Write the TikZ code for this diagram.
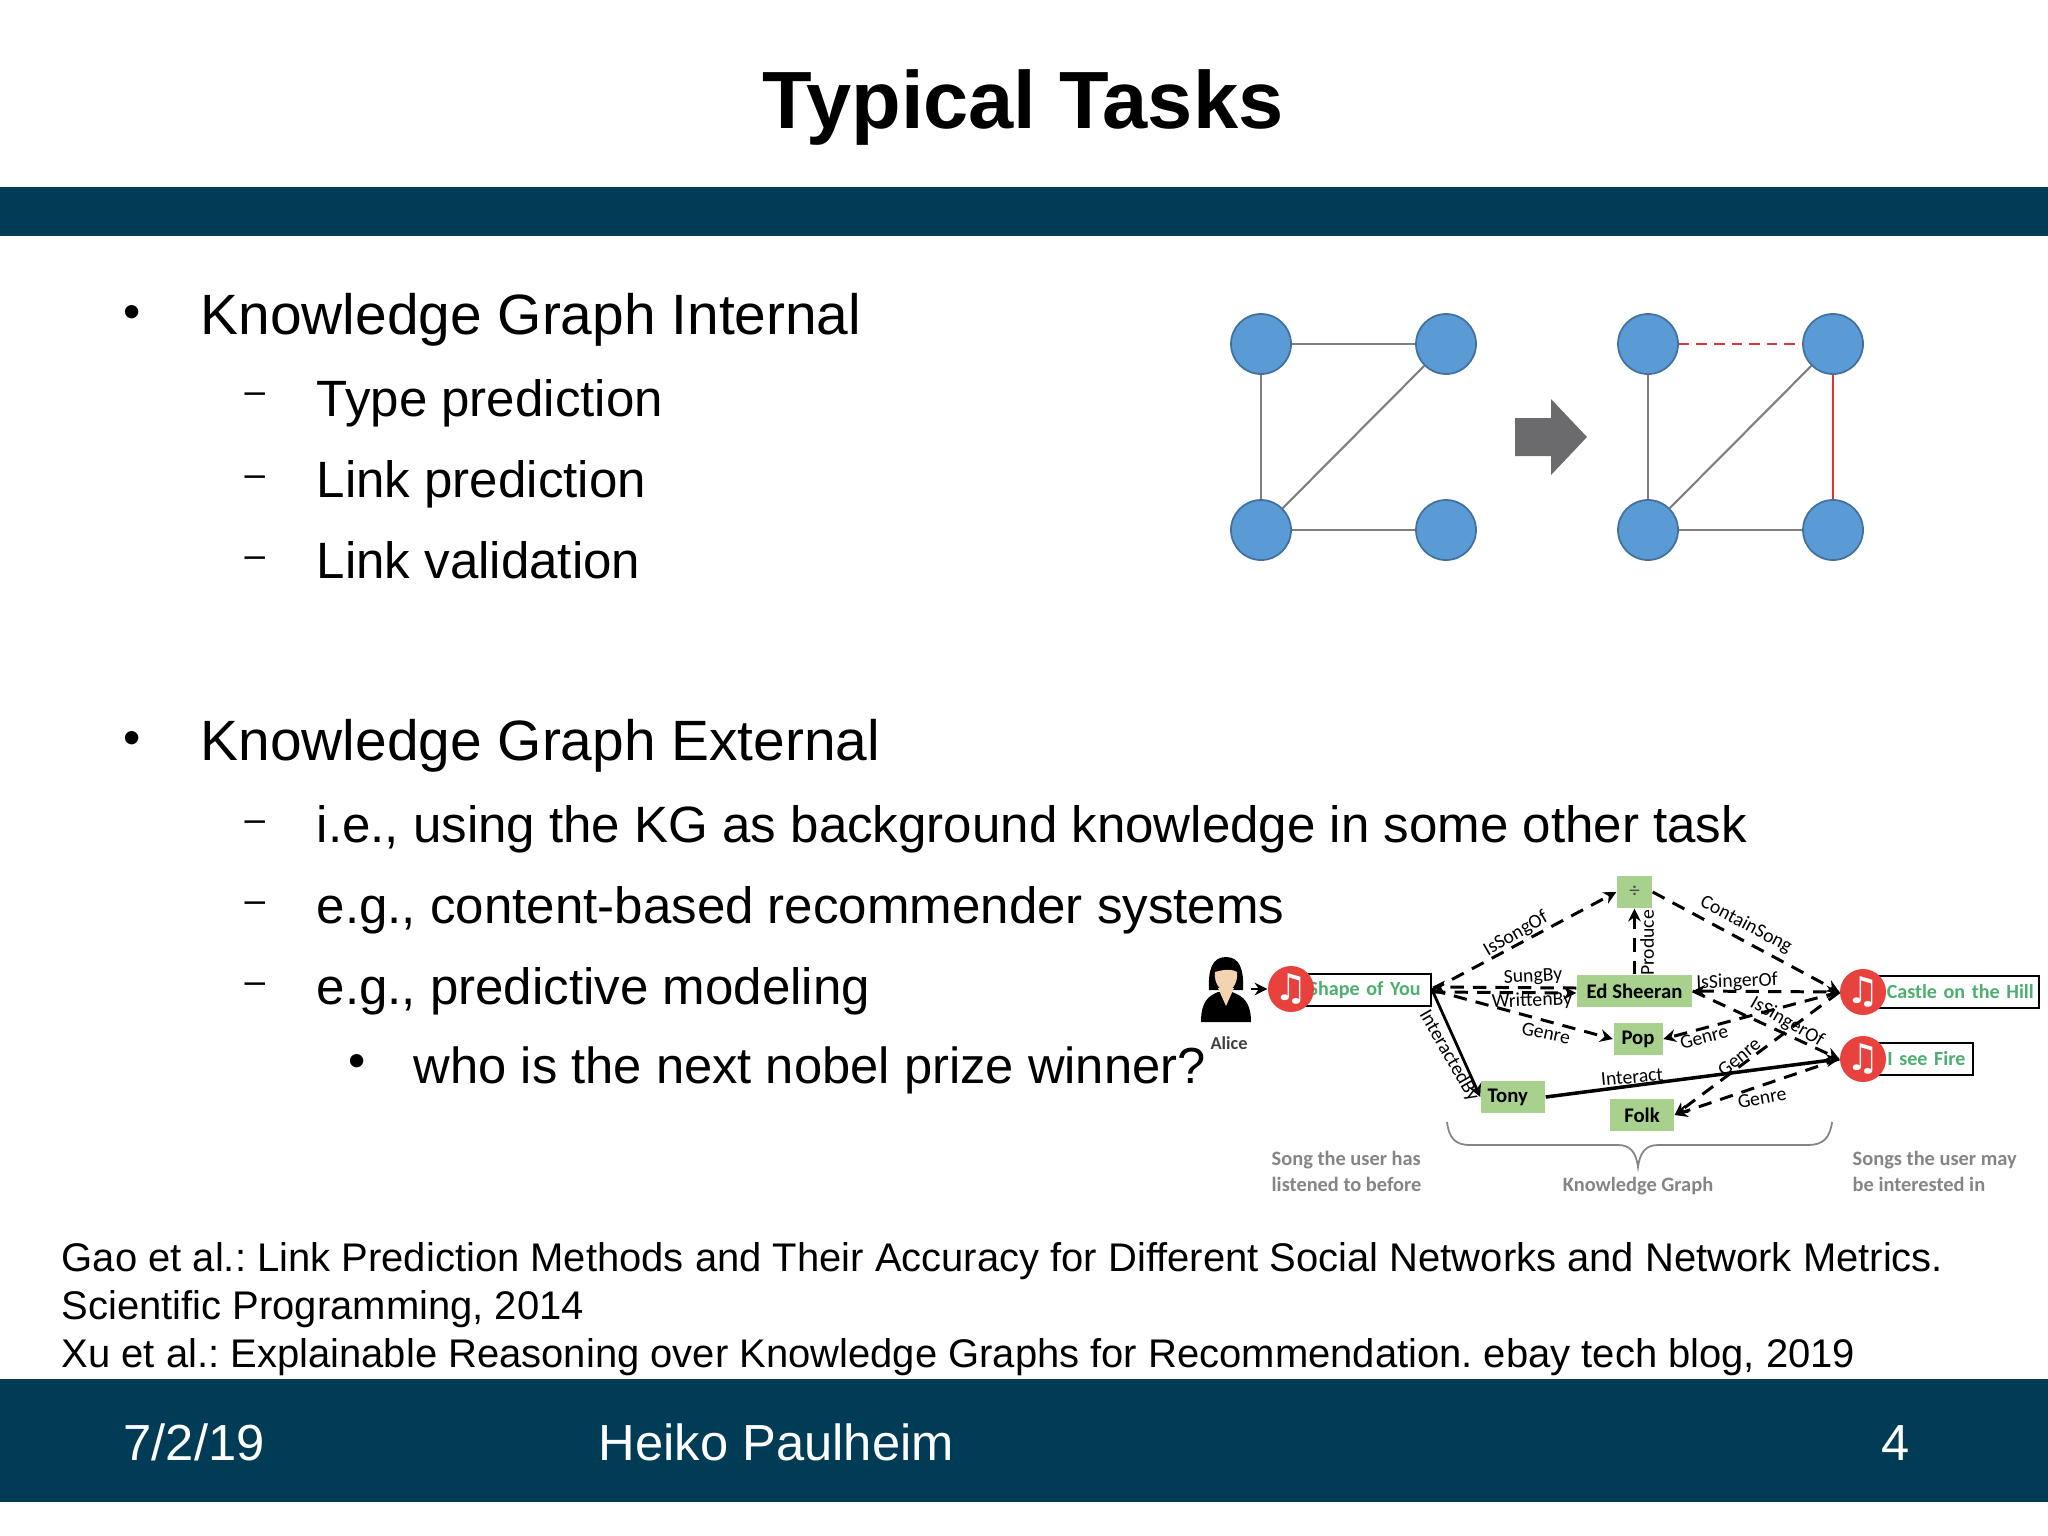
\documentclass[tikz,border=0pt]{standalone}
\usepackage{fontspec}
\usetikzlibrary{arrows.meta}
\setmainfont{Liberation Sans}
\newfontfamily\kgfont{Carlito}
\newfontfamily\notefont{DejaVu Sans}
\newcommand{\px}{0.01cm}
\frenchspacing
\definecolor{bandblue}{HTML}{003C55}
\definecolor{ballblue}{HTML}{5B9BD5}
\definecolor{ballline}{HTML}{41719C}
\definecolor{edgegray}{HTML}{7F7F7F}
\definecolor{arrowgray}{HTML}{6B6B6D}
\definecolor{linkred}{HTML}{D9363E}
\definecolor{kggreen}{HTML}{A9D18E}
\definecolor{songgreen}{HTML}{4CAF6E}
\definecolor{notered}{HTML}{E8423F}
\definecolor{captiongray}{HTML}{858585}
\definecolor{skin}{HTML}{F3D3B0}
\tikzset{
  titletext/.style={font=\fontsize{23.1}{26}\selectfont\bfseries},
  levelone/.style={anchor=base west,inner sep=0pt,font=\fontsize{16.17}{20}\selectfont},
  leveltwo/.style={anchor=base west,inner sep=0pt,font=\fontsize{14.52}{18}\selectfont},
  levelthree/.style={anchor=base west,inner sep=0pt,font=\fontsize{14.42}{18}\selectfont},
  refline/.style={anchor=base west,inner sep=0pt,font=\fontsize{11.37}{14}\selectfont},
  footline/.style={inner sep=0pt,text=white,font=\fontsize{14.42}{18}\selectfont},
  bulletmark/.style={inner sep=0pt,font=\fontsize{14}{18}\selectfont},
  dashmark/.style={inner sep=0pt,font=\fontsize{10.5}{12}\selectfont},
  kgball/.style={circle,fill=ballblue,draw=ballline,line width=0.5pt,minimum size=60*\px,inner sep=0pt},
  kgedge/.style={edgegray,line width=0.6pt},
  kgbox/.style={fill=kggreen,inner sep=0pt,minimum height=32*\px,font=\kgfont\fontsize{5.9}{7}\selectfont\bfseries},
  songbox/.style={draw=black,line width=0.6pt,inner sep=0pt,fill=white,text=songgreen,anchor=west,align=right,minimum height=32*\px,font=\kgfont\fontsize{5.7}{7}\selectfont\bfseries},
  notedisc/.style={circle,fill=notered,text=white,minimum size=46*\px,inner sep=0pt,font=\notefont\fontsize{10.5}{10.5}\selectfont},
  rel/.style={inner sep=0pt,font=\kgfont\fontsize{5.6}{6}\selectfont},
  caption/.style={inner sep=0pt,text=captiongray,font=\kgfont\fontsize{5.8}{7.4}\selectfont\bfseries},
  dashedge/.style={-{Stealth[length=3.6pt,width=3.6pt]},line width=0.85pt,dash pattern=on 3.8pt off 2.6pt},
  solidedge/.style={-{Stealth[length=3.6pt,width=3.6pt]},line width=0.8pt},
}
\begin{document}
\begin{tikzpicture}[x=0.01cm,y=-0.01cm]
  \useasboundingbox (0,0) rectangle (2048,1536);
  \fill[white] (0,0) rectangle (2048,1536);
  % bands
  \fill[bandblue] (0,187) rectangle (2048,236);
  \fill[bandblue] (0,1379) rectangle (2048,1502);
  \node[titletext] (title) at (1023,107) {Typical Tasks};

  % bullets
  \node[bulletmark] (b1) at (132,317) {•};
  \node[levelone] (internal) at (200,334) {Knowledge Graph Internal};
  \node[dashmark] (d1) at (255,398) {–};
  \node[leveltwo] (type) at (316,416) {Type prediction};
  \node[dashmark] (d2) at (255,481) {–};
  \node[leveltwo] (link) at (316,497) {Link prediction};
  \node[dashmark] (d3) at (255,562) {–};
  \node[leveltwo] (valid) at (316,578) {Link validation};
  \node[bulletmark] (b2) at (132,743) {•};
  \node[levelone] (external) at (200,760) {Knowledge Graph External};
  \node[dashmark] (d4) at (255,826) {–};
  \node[leveltwo] (using) at (316,842) {i.e., using the KG as background knowledge in some other task};
  \node[dashmark] (d5) at (255,907) {–};
  \node[leveltwo] (recsys) at (316,923) {e.g., content-based recommender systems};
  \node[dashmark] (d6) at (255,988) {–};
  \node[leveltwo] (predmod) at (316,1004) {e.g., predictive modeling};
  \node[bulletmark] (b3) at (357,1066) {•};
  \node[levelthree] (nobel) at (413,1083) {who is the next nobel prize winner?};

  % references
  \node[refline] (ref1) at (61,1271) {Gao et al.: Link Prediction Methods and Their Accuracy for Different Social Networks and Network Metrics.};
  \node[refline] (ref2) at (61,1319) {Scientific Programming, 2014};
  \node[refline] (ref3) at (61,1367) {Xu et al.: Explainable Reasoning over Knowledge Graphs for Recommendation. ebay tech blog, 2019};

  % footer
  \node[footline,anchor=base west] (date) at (123,1460) {7/2/19};
  \node[footline,anchor=base west] (author) at (598,1460) {Heiko Paulheim};
  \node[footline,anchor=base east] (page) at (1910,1460) {4};

  % small graphs
  \node[kgball] (la) at (1261,344) {};
  \node[kgball] (lb) at (1446,344) {};
  \node[kgball] (lc) at (1261,530) {};
  \node[kgball] (ld) at (1446,530) {};
  \draw[kgedge] (la) -- (lb);
  \draw[kgedge] (la) -- (lc);
  \draw[kgedge] (lb) -- (lc);
  \draw[kgedge] (lc) -- (ld);
  \node[kgball] (ra) at (1648,344) {};
  \node[kgball] (rb) at (1833,344) {};
  \node[kgball] (rc) at (1648,530) {};
  \node[kgball] (rd) at (1833,530) {};
  \draw[kgedge] (ra) -- (rc);
  \draw[kgedge] (rb) -- (rc);
  \draw[kgedge] (rc) -- (rd);
  \draw[linkred,line width=0.6pt] (rb) -- (rd);
  \draw[linkred,line width=0.7pt,dash pattern=on 3pt off 2pt] (ra) -- (rb);
  \fill[arrowgray] (1515,418) -- (1551,418) -- (1551,399) -- (1587,437) -- (1551,475) -- (1551,456) -- (1515,456) -- cycle;

  % user icon
  \fill[black] (1201,1022) .. controls (1201,1002) and (1208,996) .. (1218,992) -- (1232,992) .. controls (1243,996) and (1251,1002) .. (1251,1022) -- cycle;
  \fill[black] (1209,990) .. controls (1208,970) and (1212,957) .. (1226,957) .. controls (1240,957) and (1244,970) .. (1243,990) -- cycle;
  \fill[skin] (1215,972) .. controls (1222,970) and (1230,968) .. (1237,972) .. controls (1238,984) and (1232,990) .. (1226,992) .. controls (1220,990) and (1214,984) .. (1215,972) -- cycle;
  \fill[skin] (1218,988) -- (1234,988) -- (1226,1006) -- cycle;
  \node[rel,font=\kgfont\fontsize{5.2}{6}\selectfont\bfseries,text=black!75] (alice) at (1229,1043) {Alice};
  \coordinate (aliceout) at (1251,989);

  % songs
  \node[songbox,minimum width=125*\px,text width=125*\px] (you) at (1305,990) {Shape of You\kern3pt};
  \node[notedisc] (youdisc) at (1291,989) {♫};
  \node[songbox,minimum width=160*\px,text width=160*\px] (castle) at (1878,992) {Castle on the Hill\kern1.5pt};
  \node[notedisc] (castledisc) at (1863,992) {♫};
  \node[songbox,minimum width=94*\px,text width=94*\px] (fire) at (1878,1059) {I see Fire\kern2.2pt};
  \node[notedisc] (firedisc) at (1863,1059) {♫};

  % entities
  \node[kgbox,minimum width=115*\px] (ed) at (1634.5,991) {Ed Sheeran};
  \node[kgbox,minimum width=35*\px,font=\kgfont\fontsize{6}{7}\selectfont,text=black!70] (album) at (1634.5,892) {÷};
  \node[kgbox,minimum width=49*\px] (pop) at (1638,1039) {Pop};
  \node[kgbox,minimum width=64*\px] (tony) at (1513,1097) {Tony\kern3pt};
  \node[kgbox,minimum width=64*\px] (folk) at (1642,1115) {Folk};

  % relations
  \draw[solidedge] (aliceout) -- (youdisc);
  \draw[dashedge] (you.east) -- (album.west);
  \draw[dashedge] (ed.north) -- (album.south);
  \draw[dashedge] (album.east) -- (castledisc.west);
  \draw[dashedge] ([yshift=-0.02cm]you.east) -- ([yshift=-0.02cm]ed.west);
  \draw[dashedge] ([yshift=0.03cm]ed.west) -- ([yshift=0.03cm]you.east);
  \draw[dashedge] (you.east) -- (pop.west);
  \draw[dashedge,{Stealth[length=3.6pt,width=3.6pt]}-{Stealth[length=3.6pt,width=3.6pt]}] (ed.east) -- (castledisc.west);
  \draw[dashedge] (ed.east) -- (firedisc.west);
  \draw[dashedge] (castledisc.west) -- (pop.east);
  \draw[dashedge] (castledisc.west) -- (folk.east);
  \draw[dashedge] (firedisc.west) -- (folk.east);
  \draw[solidedge] (you.east) -- (tony.west);
  \draw[solidedge,line width=1pt] (tony.east) -- (firedisc.west);

  \node[rel,rotate=30] (issong) at (1516,934) {IsSongOf};
  \node[rel,rotate=90] (produce) at (1647,943) {Produce};
  \node[rel,rotate=-28] (contain) at (1746,925) {ContainSong};
  \node[rel,rotate=3] (sung) at (1533,977) {SungBy};
  \node[rel,rotate=2] (written) at (1532,1001) {WrittenBy};
  \node[rel,rotate=-12] (genrea) at (1546,1033) {Genre};
  \node[rel,rotate=2] (singera) at (1737,982) {IsSingerOf};
  \node[rel,rotate=-30] (singerb) at (1787,1022) {IsSingerOf};
  \node[rel,rotate=15] (genreb) at (1704,1037) {Genre};
  \node[rel,rotate=40] (genrec) at (1739,1057) {Genre};
  \node[rel,rotate=5] (interact) at (1632,1077) {Interact};
  \node[rel,rotate=-60] (interby) at (1449,1056) {InteractedBy};
  \node[rel,rotate=10] (genred) at (1762,1098) {Genre};

  % brace and captions
  \draw[captiongray,line width=0.5pt] (1447,1122) .. controls (1449,1138) and (1455,1145) .. (1470,1145) -- (1618,1145) .. controls (1630,1145) and (1636,1152) .. (1638,1167) .. controls (1640,1152) and (1646,1145) .. (1658,1145) -- (1808,1145) .. controls (1823,1145) and (1830,1138) .. (1832,1122);
  \node[caption,anchor=north west,align=left] (seen) at (1271,1150) {Song the user has\\listened to before};
  \node[caption] (kg) at (1638,1186) {Knowledge Graph};
  \node[caption,anchor=north west,align=left] (maybe) at (1852,1150) {Songs the user may\\be interested in};
\end{tikzpicture}
\end{document}
